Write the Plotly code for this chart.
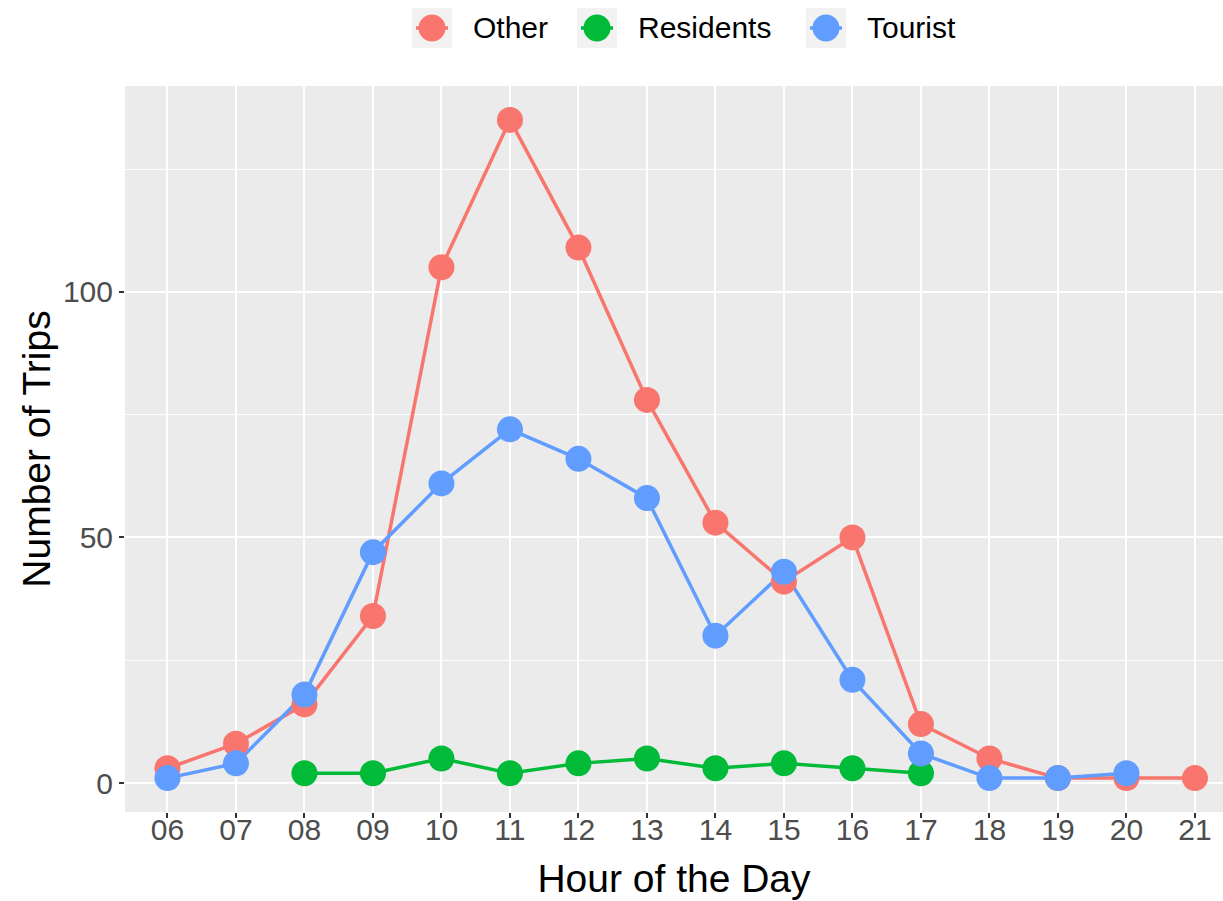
import plotly.graph_objects as go

hours = ["06", "07", "08", "09", "10", "11", "12", "13", "14", "15", "16", "17", "18", "19", "20", "21"]

other_hours = hours
other_trips = [3, 8, 16, 34, 105, 135, 109, 78, 53, 41, 50, 12, 5, 1, 1, 1]

residents_hours = hours[2:12]
residents_trips = [2, 2, 5, 2, 4, 5, 3, 4, 3, 2]

tourist_hours = hours[:15]
tourist_trips = [1, 4, 18, 47, 61, 72, 66, 58, 30, 43, 21, 6, 1, 1, 2]

series = [
    ("Other", other_hours, other_trips, "#F8766D"),
    ("Residents", residents_hours, residents_trips, "#00BA38"),
    ("Tourist", tourist_hours, tourist_trips, "#619CFF"),
]

W, H = 1223, 901
L, R, T, B = 125, 0, 86, 89

fig = go.Figure()

# ggplot order: all lines, then all points on top
for name, hx, vals, col in series:
    fig.add_trace(go.Scatter(
        x=[hours.index(h) for h in hx], y=vals, name=name,
        mode="lines", line=dict(color=col, width=3.5), showlegend=False,
    ))
for name, hx, vals, col in series:
    fig.add_trace(go.Scatter(
        x=[hours.index(h) for h in hx], y=vals, name=name,
        mode="markers", marker=dict(color=col, size=26), showlegend=False,
    ))


# ggplot-style legend at the top: grey key box, dot, label
def px(x):
    return (x - L) / (W - L - R)


def py(y):
    return (H - B - y) / (H - T - B)


key_centers = [432, 597, 826]
key_y = 28
for (name, _, _, col), kx in zip(series, key_centers):
    fig.add_shape(type="rect", xref="paper", yref="paper",
                  x0=px(kx - 20), x1=px(kx + 20), y0=py(key_y + 20), y1=py(key_y - 20),
                  fillcolor="#F2F2F2", line=dict(width=0), layer="above")
    fig.add_shape(type="line", xref="paper", yref="paper",
                  x0=px(kx - 16), x1=px(kx + 16), y0=py(key_y), y1=py(key_y),
                  line=dict(color=col, width=3.5), layer="above")
    fig.add_shape(type="circle", xref="paper", yref="paper",
                  x0=px(kx - 13.5), x1=px(kx + 13.5), y0=py(key_y + 13.5), y1=py(key_y - 13.5),
                  fillcolor=col, line=dict(width=0), layer="above")
    fig.add_annotation(text=name, xref="paper", yref="paper",
                       x=px(kx + 39), y=py(key_y), xanchor="left", yanchor="middle",
                       showarrow=False, font=dict(size=30, color="black"))

fig.update_layout(
    width=W, height=H,
    margin=dict(l=L, r=R, t=T, b=B),
    paper_bgcolor="white",
    plot_bgcolor="#EBEBEB",
    font=dict(family="Liberation Sans, Arial, sans-serif", color="black"),
    showlegend=False,
    xaxis=dict(
        range=[-0.62, 15.41], automargin=False,
        tickmode="array", tickvals=list(range(len(hours))), ticktext=hours,
        showgrid=True, gridcolor="white", gridwidth=2,
        zeroline=False, showline=False,
        ticks="outside", ticklen=5, tickcolor="#333333", tickwidth=1.5,
        ticklabelstandoff=-14,
        tickfont=dict(size=30, color="#4D4D4D"),
        title=dict(text="Hour of the Day", font=dict(size=39), standoff=19),
    ),
    yaxis=dict(
        range=[-5.9, 141.9], automargin=False,
        tickmode="array", tickvals=[0, 50, 100],
        showgrid=True, gridcolor="white", gridwidth=2,
        minor=dict(tickmode="array", tickvals=[25, 75, 125], showgrid=True,
                   gridcolor="white", gridwidth=1),
        zeroline=False, showline=False,
        ticks="outside", ticklen=5, tickcolor="#333333", tickwidth=1.5,
        tickfont=dict(size=30, color="#4D4D4D"),
        title=dict(text="Number of Trips", font=dict(size=39), standoff=0),
    ),
)

# drop the page's default body margin so the figure sits at the window corner
fig.write_html("out.html", config={"displayModeBar": False},
               post_script="document.body.style.margin='0';")
